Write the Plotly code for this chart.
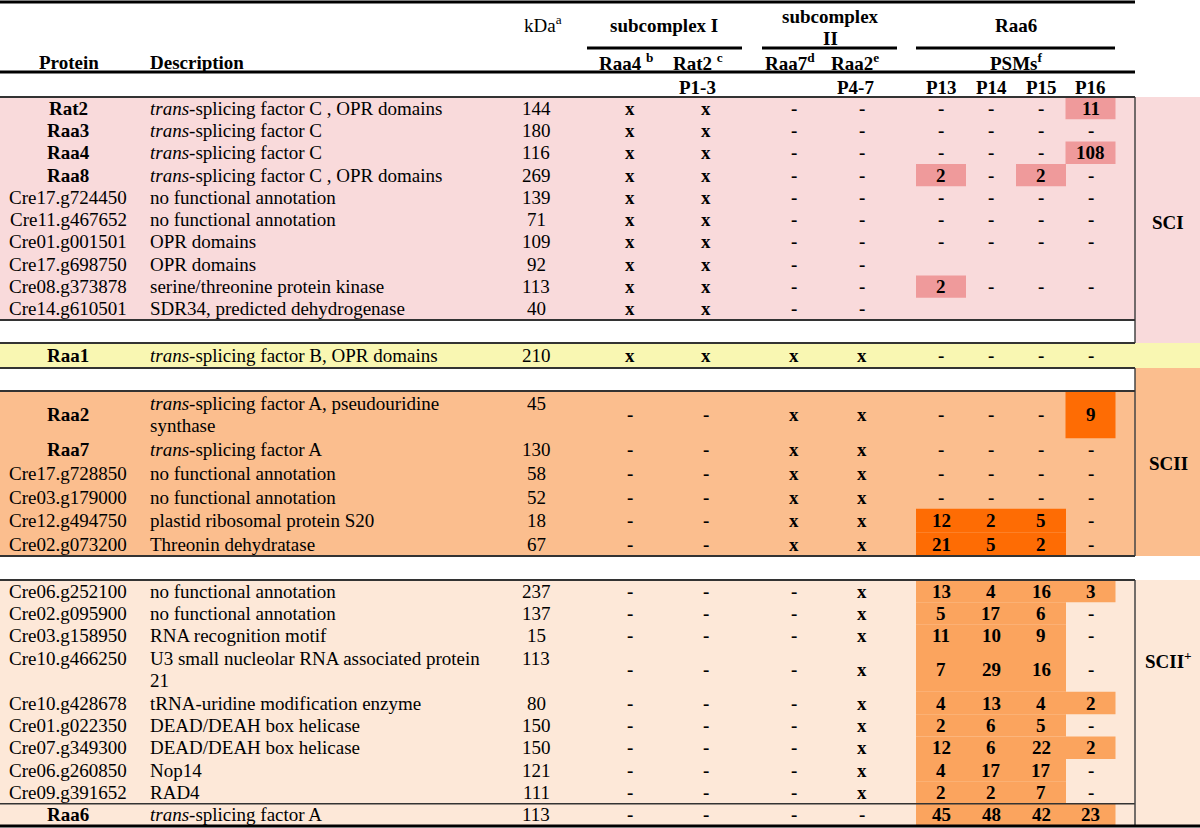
import plotly.graph_objects as go

# ---------------- data ----------------
protein = ["Rat2", "Raa3", "Raa4", "Raa8", "Cre17.g724450", "Cre11.g467652", "Cre01.g001501",
           "Cre17.g698750", "Cre08.g373878", "Cre14.g610501",
           "Raa1",
           "Raa2", "Raa7", "Cre17.g728850", "Cre03.g179000", "Cre12.g494750", "Cre02.g073200",
           "Cre06.g252100", "Cre02.g095900", "Cre03.g158950", "Cre10.g466250", "Cre10.g428678",
           "Cre01.g022350", "Cre07.g349300", "Cre06.g260850", "Cre09.g391652", "Raa6"]
bold_name = [True, True, True, True, False, False, False, False, False, False,
             True,
             True, True, False, False, False, False,
             False, False, False, False, False, False, False, False, False, True]
description = ["<i>trans</i>-splicing factor C , OPR domains", "<i>trans</i>-splicing factor C",
               "<i>trans</i>-splicing factor C", "<i>trans</i>-splicing factor C , OPR domains",
               "no functional annotation", "no functional annotation", "OPR domains", "OPR domains",
               "serine/threonine protein kinase", "SDR34, predicted dehydrogenase",
               "<i>trans</i>-splicing factor B, OPR domains",
               "<i>trans</i>-splicing factor A, pseudouridine<br>synthase", "<i>trans</i>-splicing factor A",
               "no functional annotation", "no functional annotation", "plastid ribosomal protein S20",
               "Threonin dehydratase",
               "no functional annotation", "no functional annotation", "RNA recognition motif",
               "U3 small nucleolar RNA associated protein<br>21", "tRNA-uridine modification enzyme",
               "DEAD/DEAH box helicase", "DEAD/DEAH box helicase", "Nop14", "RAD4",
               "<i>trans</i>-splicing factor A"]
kda = [144, 180, 116, 269, 139, 71, 109, 92, 113, 40,
       210,
       45, 130, 58, 52, 18, 67,
       237, 137, 15, 113, 80, 150, 150, 121, 111, 113]
raa4 = ["x"] * 10 + ["x"] + ["-"] * 6 + ["-"] * 10
rat2 = ["x"] * 10 + ["x"] + ["-"] * 6 + ["-"] * 10
raa7 = ["-"] * 10 + ["x"] + ["x"] * 6 + ["-"] * 10
raa2 = ["-"] * 10 + ["x"] + ["x"] * 6 + ["x"] * 9 + ["-"]
p13 = ["-", "-", "-", "2", "-", "-", "-", "", "2", "",
       "-",
       "-", "-", "-", "-", "12", "21",
       "13", "5", "11", "7", "4", "2", "12", "4", "2", "45"]
p14 = ["-", "-", "-", "-", "-", "-", "-", "", "-", "",
       "-",
       "-", "-", "-", "-", "2", "5",
       "4", "17", "10", "29", "13", "6", "6", "17", "2", "48"]
p15 = ["-", "-", "-", "2", "-", "-", "-", "", "-", "",
       "-",
       "-", "-", "-", "-", "5", "2",
       "16", "6", "9", "16", "4", "5", "22", "17", "7", "42"]
p16 = ["11", "-", "108", "-", "-", "-", "-", "", "-", "",
       "-",
       "9", "-", "-", "-", "-", "-",
       "3", "-", "-", "-", "2", "-", "2", "-", "-", "23"]
group = ["SCI"] * 10 + ["B"] + ["SCII"] * 6 + ["SCII+"] * 10
row_units = [1] * 10 + [1] + [2, 1, 1, 1, 1, 1] + [1, 1, 1, 2, 1, 1, 1, 1, 1, 1]
name_top = [False] * 20 + [True] + [False] * 6   # name aligned to first text line

group_labels = ["SCI", "SCII", "SCII<sup>+</sup>"]
header_top = ["kDa<sup>a</sup>", "<b>subcomplex I</b>", "<b>subcomplex<br>II</b>", "<b>Raa6</b>"]
header_mid = ["<b>Raa4 <sup>b</sup></b>", "<b>Rat2 <sup>c</sup></b>", "<b>Raa7<sup>d</sup></b>",
              "<b>Raa2<sup>e</sup></b>", "<b>PSMs<sup>f</sup></b>"]
header_low = ["<b>P1-3</b>", "<b>P4-7</b>", "<b>P13</b>", "<b>P14</b>", "<b>P15</b>", "<b>P16</b>"]

# ---------------- layout constants ----------------
W, H = 1200, 828
FONT = "Liberation Serif"
FS = 19
LINE_GAP = 22
TABLE_R = 1135
sections = {
    "SCI":   dict(top=97, bottom=320, bg="#F9DADB", hi="#EF9A9B", lab_top=97, lab_bot=343, lab_y=222),
    "B":     dict(top=343, bottom=368, bg="#F9F7B2", hi="#F9F7B2", lab_top=None, lab_bot=None, lab_y=None),
    "SCII":  dict(top=391, bottom=556, bg="#FBBE8E", hi="#FE6C04", lab_top=368, lab_bot=556, lab_y=463),
    "SCII+": dict(top=580, bottom=826, bg="#FDE8D8", hi="#FBA45E", lab_top=580, lab_bot=826, lab_y=660),
}
col_name_x = 68
col_desc_x = 148
col_kda_x = 536
col_flags_x = [630, 706, 794, 862]
col_psm_x = [941, 991, 1041, 1090.5]
psm_w = 50

fig = go.Figure()
fig.add_trace(go.Scatter(x=[0, W], y=[0, H], mode="markers", marker=dict(size=1, opacity=0),
                         showlegend=False, hoverinfo="skip"))
shapes, anns = [], []


def txt(x, y, t, xanchor="center", yanchor="middle", size=FS):
    anns.append(dict(x=x, y=y, xref="x", yref="y", text=t, showarrow=False,
                     xanchor=xanchor, yanchor=yanchor, align="left" if xanchor == "left" else "center",
                     font=dict(family=FONT, size=size, color="black")))


def multitxt(x, y_first, t, xanchor="center"):
    for k, part in enumerate(t.split("<br>")):
        if part.startswith("<b>") is False and "</b>" in part:
            part = "<b>" + part
        if "<b>" in part and "</b>" not in part:
            part = part + "</b>"
        txt(x, y_first + k * LINE_GAP, part, xanchor=xanchor)


def rect(x0, y0, x1, y1, color):
    shapes.append(dict(type="rect", xref="x", yref="y", x0=x0, x1=x1, y0=y0, y1=y1,
                       fillcolor=color, line=dict(width=0), layer="below"))


def hline(x0, x1, y, w=2.5, color="black"):
    shapes.append(dict(type="line", xref="x", yref="y", x0=x0, x1=x1, y0=y, y1=y,
                       line=dict(color=color, width=w), layer="above"))


def vline(x, y0, y1, w=1.5, color="#444"):
    shapes.append(dict(type="line", xref="x", yref="y", x0=x, x1=x, y0=y0, y1=y1,
                       line=dict(color=color, width=w), layer="above"))


# section backgrounds
for g, s in sections.items():
    if g == "B":
        rect(0, s["top"], W, s["bottom"], s["bg"])
    else:
        rect(0, s["top"], TABLE_R, s["bottom"], s["bg"])
        rect(TABLE_R, s["lab_top"], W, s["lab_bot"], s["bg"])

# rows
order = ["SCI", "B", "SCII", "SCII+"]
for g in order:
    s = sections[g]
    idx = [i for i, gg in enumerate(group) if gg == g]
    units = sum(row_units[i] for i in idx)
    uh = (s["bottom"] - s["top"]) / units
    y = s["top"]
    for i in idx:
        h = row_units[i] * uh
        yc = y + h / 2
        nlines = description[i].count("<br>") + 1
        ytop = yc - (nlines - 1) * LINE_GAP / 2
        # highlight boxes
        for j, col in enumerate([p13, p14, p15, p16]):
            if col[i] not in ("", "-"):
                rect(col_psm_x[j] - psm_w / 2, y, col_psm_x[j] + psm_w / 2, y + h, s["hi"])
        name = f"<b>{protein[i]}</b>" if bold_name[i] else protein[i]
        txt(col_name_x, ytop if name_top[i] else yc, name)
        multitxt(col_desc_x, ytop, description[i], xanchor="left")
        txt(col_kda_x, ytop, str(kda[i]))
        for j, col in enumerate([raa4, rat2, raa7, raa2]):
            txt(col_flags_x[j], yc, f"<b>{col[i]}</b>")
        for j, col in enumerate([p13, p14, p15, p16]):
            if col[i]:
                txt(col_psm_x[j], yc, f"<b>{col[i]}</b>")
        y += h
    if g == "SCII+":
        hline(0, TABLE_R, s["bottom"] - row_units[idx[-1]] * uh, w=1.5, color="#333")

# group labels and their borders
for lab, g in zip(group_labels, ["SCI", "SCII", "SCII+"]):
    s = sections[g]
    txt(1168, s["lab_y"], f"<b>{lab}</b>")
    vline(TABLE_R, s["lab_top"], s["lab_bot"])

# section rules
for yy in [97, 320, 343, 368, 391, 556, 580]:
    hline(0, TABLE_R, yy, w=2, color="#333")
hline(0, W, 826, w=3)

# header
hline(0, TABLE_R, 2, w=3)
hline(0, TABLE_R, 72, w=3)
hline(587, 742, 48, w=3)
hline(762, 897, 48, w=3)
hline(916, 1115, 48, w=3)
txt(543, 24, header_top[0])
txt(664, 25, header_top[1])
multitxt(830, 16, header_top[2])
txt(1016, 25, header_top[3])
txt(69, 62, "<b>Protein</b>")
txt(col_desc_x, 62, "<b>Description</b>", xanchor="left")
for t, x in zip(header_mid, [626, 698, 790, 855, 1016]):
    txt(x, 62, t)
for t, x in zip(header_low, [697, 855] + col_psm_x):
    txt(x, 87, t)

fig.update_layout(
    width=W, height=H, margin=dict(l=0, r=0, t=0, b=0),
    paper_bgcolor="white", plot_bgcolor="white",
    xaxis=dict(range=[0, W], visible=False, fixedrange=True),
    yaxis=dict(range=[H, 0], visible=False, fixedrange=True),
    shapes=shapes, annotations=anns, showlegend=False,
)
fig.write_html("out.html", config={"displayModeBar": False},
               post_script="document.body.style.margin='0';document.body.style.overflow='hidden';")
